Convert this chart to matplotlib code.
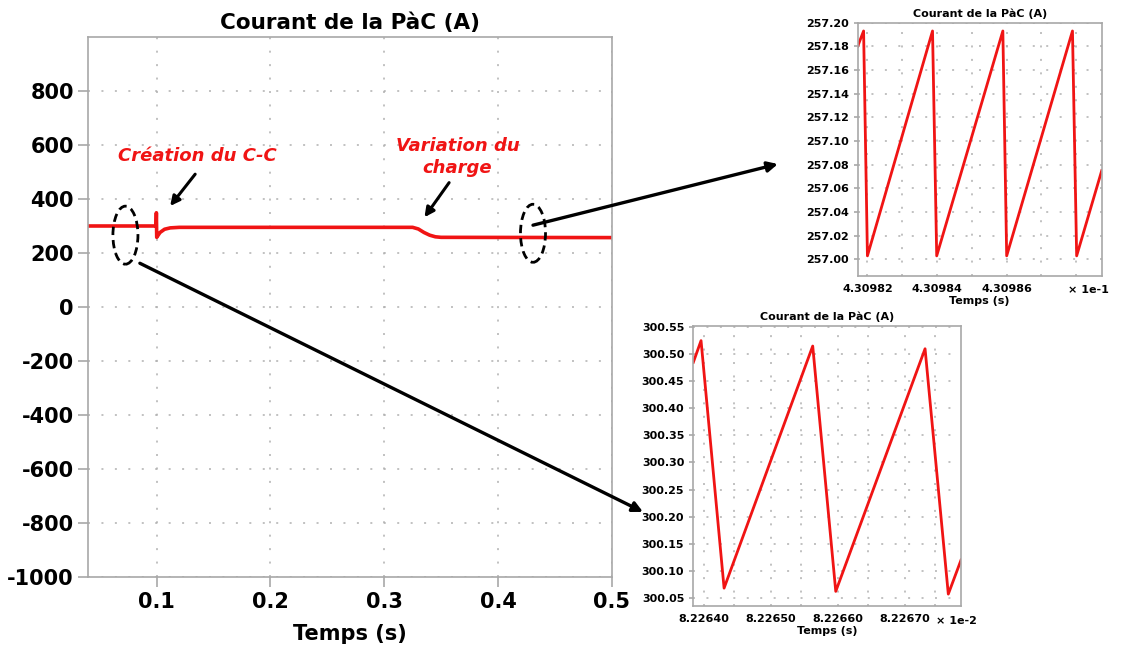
import matplotlib
matplotlib.use('Agg')
import matplotlib.pyplot as plt
from matplotlib.patches import Ellipse, ConnectionPatch

# Courant de la PàC - trace principale
temps = [0.04, 0.0995, 0.0998, 0.1001, 0.103, 0.107, 0.112, 0.12, 0.325, 0.33, 0.335,
         0.34, 0.345, 0.35, 0.5]
courant = [300, 300, 349, 258, 276, 288, 293, 295, 295, 289, 276, 266, 260, 258, 257]
xticks_main = [0.1, 0.2, 0.3, 0.4, 0.5]
yticks_main = [800, 600, 400, 200, 0, -200, -400, -600, -800, -1000]

# zoom autour de t = 0.43 s (axe en x 1e-1)
temps_z1 = [4.3098172, 4.3098189, 4.30982, 4.3098387, 4.3098399, 4.3098589, 4.30986,
            4.3098789, 4.3098801, 4.3098873]
courant_z1 = [257.18, 257.193, 257.003, 257.193, 257.003, 257.193, 257.003, 257.193,
              257.003, 257.075]
xticks_z1 = [4.30982, 4.30984, 4.30986]
yticks_z1 = [257.00, 257.02, 257.04, 257.06, 257.08, 257.10, 257.12, 257.14, 257.16,
             257.18, 257.20]

# zoom autour de t = 0.082 s (axe en x 1e-2)
temps_z2 = [8.226384, 8.2263955, 8.2264299, 8.2265622, 8.2265966, 8.2267299, 8.2267646,
            8.2267836]
courant_z2 = [300.485, 300.525, 300.068, 300.515, 300.062, 300.51, 300.057, 300.12]
xticks_z2 = [8.22640, 8.22650, 8.22660, 8.22670]
yticks_z2 = [300.05, 300.10, 300.15, 300.20, 300.25, 300.30, 300.35, 300.40, 300.45,
             300.50, 300.55]

ROUGE = '#f01414'
GRIS = '#a8a8a8'
plt.rcParams['font.family'] = ['DejaVu Sans']
plt.rcParams['font.weight'] = 'bold'
plt.rcParams['axes.unicode_minus'] = False


def style_axes(ax, fs, ticklen):
    for s in ax.spines.values():
        s.set_color(GRIS)
        s.set_linewidth(1.2)
    ax.tick_params(colors=GRIS, labelcolor='black', labelsize=fs, length=ticklen, width=1.2)
    ax.grid(True, color='#b0b0b0', linestyle=(0, (1.3, 7.5)), linewidth=1.1)
    ax.set_axisbelow(True)


fig = plt.figure(figsize=(11.21, 6.48), dpi=100)

# 1. Graphique principal
ax = fig.add_axes([0.0788, 0.1096, 0.4669, 0.8333])
ax.plot(temps, courant, color=ROUGE, linewidth=2.6)
ax.set_xlim(0.04, 0.5)
ax.set_ylim(-1000, 1000)
ax.set_xticks(xticks_main)
ax.set_xticklabels([str(v) for v in xticks_main])
ax.set_yticks(yticks_main)
style_axes(ax, 15, 7)
ax.set_title('Courant de la PàC (A)', fontsize=15.5, fontweight='bold', pad=6)
ax.set_xlabel('Temps (s)', fontsize=15, fontweight='bold', labelpad=9)

# annotations
ax.text(0.1355, 559, 'Création du C-C', color=ROUGE, fontsize=13, fontweight='bold',
        fontstyle='italic', ha='center', va='center')
ax.text(0.3645, 555, 'Variation du\ncharge', color=ROUGE, fontsize=13, fontweight='bold',
        fontstyle='italic', ha='center', va='center', linespacing=1.25)
ax.annotate('', xy=(0.1104, 366), xytext=(0.1354, 500),
            arrowprops=dict(arrowstyle='-|>', color='black', lw=2.2, mutation_scale=14))
ax.annotate('', xy=(0.334, 324), xytext=(0.3585, 469),
            arrowprops=dict(arrowstyle='-|>', color='black', lw=2.2, mutation_scale=14))
ax.add_patch(Ellipse((0.0726, 266), 0.022, 215, fill=False, edgecolor='black',
                     linestyle=(0, (3, 1.8)), linewidth=2.0, zorder=5))
ax.add_patch(Ellipse((0.4308, 273), 0.022, 215, fill=False, edgecolor='black',
                     linestyle=(0, (3, 1.8)), linewidth=2.0, zorder=5, clip_on=False))

# 2. Zoom t = 0.43 s
ax1 = fig.add_axes([0.7651, 0.5741, 0.2177, 0.3909])
ax1.plot(temps_z1, courant_z1, color=ROUGE, linewidth=2.0)
ax1.set_xlim(4.3098172, 4.3098873)
ax1.set_ylim(256.986, 257.20)
ax1.set_xticks(xticks_z1)
ax1.set_xticklabels(['%.5f' % v for v in xticks_z1])
ax1.set_xticks([4.30983, 4.30985, 4.30987, 4.30988], minor=True)
ax1.set_yticks(yticks_z1)
ax1.set_yticklabels(['%.2f' % v for v in yticks_z1])
style_axes(ax1, 8, 3)
ax1.tick_params(axis='x', length=0, pad=6)
ax1.tick_params(axis='x', which='minor', length=0)
ax1.grid(True, which='minor', axis='x', color='#b0b0b0', linestyle=(0, (1.3, 7.5)), linewidth=1.1)
ax1.set_title('Courant de la PàC (A)', fontsize=8, fontweight='bold', pad=4)
ax1.set_xlabel('Temps (s)', fontsize=8, fontweight='bold', labelpad=1)
ax1.text(1.03, -0.055, '× 1e-1', transform=ax1.transAxes, fontsize=8, fontweight='bold',
         ha='right', va='center')

# 3. Zoom t = 0.082 s
ax2 = fig.add_axes([0.6185, 0.0648, 0.2388, 0.4321])
ax2.plot(temps_z2, courant_z2, color=ROUGE, linewidth=2.0)
ax2.set_xlim(8.226384, 8.2267836)
ax2.set_ylim(300.035, 300.552)
ax2.set_xticks(xticks_z2)
ax2.set_xticklabels(['%.5f' % v for v in xticks_z2])
ax2.set_xticks([8.226445, 8.226545, 8.226645, 8.226745], minor=True)
ax2.set_yticks(yticks_z2)
ax2.set_yticklabels(['%.2f' % v for v in yticks_z2])
style_axes(ax2, 8, 3)
ax2.tick_params(axis='x', length=0, pad=6)
ax2.tick_params(axis='x', which='minor', length=0)
ax2.grid(True, which='minor', axis='x', color='#b0b0b0', linestyle=(0, (1.3, 7.5)), linewidth=1.1)
ax2.set_title('Courant de la PàC (A)', fontsize=8, fontweight='bold', pad=4)
ax2.set_xlabel('Temps (s)', fontsize=8, fontweight='bold', labelpad=1)
ax2.text(0.905, -0.055, '× 1e-2', transform=ax2.transAxes, fontsize=8, fontweight='bold',
         ha='left', va='center')

# 4. Flèches vers les zooms
for xy_a, axb, xy_b in [((0.4308, 303), ax1, (-0.327, 0.442)),
                        ((0.0853, 162), ax2, (-0.188, 0.336))]:
    con = ConnectionPatch(xyA=xy_a, coordsA=ax.transData, xyB=xy_b, coordsB=axb.transAxes,
                          arrowstyle='-|>', color='black', lw=2.4, mutation_scale=15)
    fig.add_artist(con)

plt.savefig('out.png', dpi=100)
